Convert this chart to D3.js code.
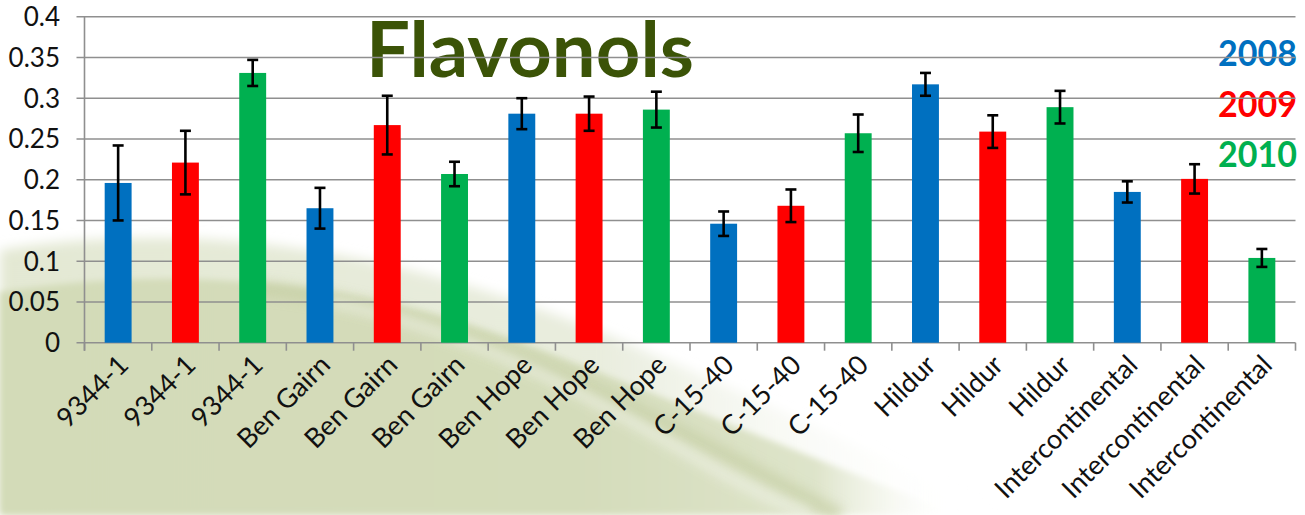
<!DOCTYPE html>
<html>
<head>
<meta charset="utf-8">
<script src="https://cdn.jsdelivr.net/npm/d3@7"></script>
<style>
  html, body { margin: 0; padding: 0; background: #ffffff; }
  svg { display: block; }
</style>
</head>
<body>
<svg id="chart" width="1305" height="515"></svg>
<script>
// ---- data ----
const varieties = ["9344-1", "Ben Gairn", "Ben Hope", "C-15-40", "Hildur", "Intercontinental"];
const years = ["2008", "2009", "2010"];
const values2008 = [0.196, 0.165, 0.281, 0.146, 0.317, 0.185];
const values2009 = [0.221, 0.267, 0.281, 0.168, 0.259, 0.201];
const values2010 = [0.331, 0.207, 0.286, 0.257, 0.289, 0.104];
const err2008 = [0.046, 0.025, 0.019, 0.015, 0.014, 0.013];
const err2009 = [0.039, 0.036, 0.021, 0.020, 0.020, 0.018];
const err2010 = [0.016, 0.015, 0.022, 0.023, 0.020, 0.011];
const yTicks = [0, 0.05, 0.1, 0.15, 0.2, 0.25, 0.3, 0.35, 0.4];
const yTickLabels = ["0", "0.05", "0.1", "0.15", "0.2", "0.25", "0.3", "0.35", "0.4"];
const title = "Flavonols";
const seriesColors = ["#0070C0", "#FF0000", "#00B050"];

const seriesValues = [values2008, values2009, values2010];
const seriesErr = [err2008, err2009, err2010];
const rows = [];
varieties.forEach((v, i) => {
  years.forEach((y, j) => {
    rows.push({ idx: rows.length, label: v, year: y, s: j, value: seriesValues[j][i], err: seriesErr[j][i] });
  });
});

const svg = d3.select("#chart");
const plot = { left: 84.5, right: 1295.5, top: 16.7, bottom: 342.7 };

// ---- background swoosh ----
const defs = svg.append("defs");
const g1 = defs.append("linearGradient").attr("id", "gGreen").attr("x1", 0).attr("y1", 0).attr("x2", 1).attr("y2", 0);
g1.append("stop").attr("offset", "0%").attr("stop-color", "#d3dbb8");
g1.append("stop").attr("offset", "60%").attr("stop-color", "#d4dcba");
g1.append("stop").attr("offset", "85%").attr("stop-color", "#dee4ca");
g1.append("stop").attr("offset", "100%").attr("stop-color", "#ffffff").attr("stop-opacity", 0);
const g2 = defs.append("linearGradient").attr("id", "gHaze").attr("x1", 0).attr("y1", 0).attr("x2", 1).attr("y2", 0);
g2.append("stop").attr("offset", "0%").attr("stop-color", "#e3e8d3");
g2.append("stop").attr("offset", "60%").attr("stop-color", "#e9edde");
g2.append("stop").attr("offset", "100%").attr("stop-color", "#ffffff").attr("stop-opacity", 0);
defs.append("filter").attr("id", "blur6").attr("x", "-20%").attr("y", "-20%").attr("width", "140%").attr("height", "140%")
  .append("feGaussianBlur").attr("stdDeviation", 6);
defs.append("filter").attr("id", "blur3").attr("x", "-20%").attr("y", "-20%").attr("width", "140%").attr("height", "140%")
  .append("feGaussianBlur").attr("stdDeviation", 3);

const bg = svg.append("g");
bg.append("path").attr("d", "M0,250 C180,222 380,240 620,340 C760,400 880,455 1000,515 L0,515 Z")
  .attr("fill", "url(#gHaze)").attr("filter", "url(#blur6)");
bg.append("path").attr("d", "M0,292 C150,268 330,272 520,342 C680,402 820,462 960,515 L0,515 Z")
  .attr("fill", "url(#gGreen)").attr("filter", "url(#blur3)");
bg.append("path").attr("d", "M250,287 C420,302 560,372 700,442 C760,472 800,497 840,515")
  .attr("fill", "none").attr("stroke", "#c6cfa4").attr("stroke-width", 14).attr("opacity", 0.7).attr("filter", "url(#blur6)");
bg.append("path").attr("d", "M330,302 C480,332 600,402 720,472 C760,494 790,507 810,515")
  .attr("fill", "none").attr("stroke", "#eef1e4").attr("stroke-width", 10).attr("opacity", 0.8).attr("filter", "url(#blur6)");

// ---- scales ----
const x = d3.scaleBand().domain(rows.map(d => d.idx)).range([plot.left, plot.right]).paddingInner(0).paddingOuter(0);
const y = d3.scaleLinear().domain([0, 0.4]).range([plot.bottom, plot.top]);
const barW = x.bandwidth() * 0.4;

// ---- title & legend (behind gridlines) ----
svg.append("text").attr("x", 366).attr("y", 76.5)
  .attr("font-family", "Lato, 'Open Sans', sans-serif").attr("font-weight", "bold").attr("font-size", 76)
  .attr("fill", "#3b5307").attr("textLength", 328).attr("lengthAdjust", "spacingAndGlyphs").text(title);

const legendY = [65.5, 116.5, 166.5];
svg.append("g").selectAll("text").data(years).join("text")
  .attr("x", 1218).attr("y", (d, i) => legendY[i])
  .attr("font-family", "Lato, 'Open Sans', sans-serif").attr("font-weight", "bold").attr("font-size", 36)
  .attr("textLength", 79).attr("lengthAdjust", "spacingAndGlyphs")
  .attr("fill", (d, i) => seriesColors[i]).text(d => d);

// ---- gridlines ----
const gridColor = "#8f8f8f";
svg.append("g").selectAll("line").data(yTicks).join("line")
  .attr("x1", plot.left - 8).attr("x2", plot.right)
  .attr("y1", d => y(d)).attr("y2", d => y(d))
  .attr("stroke", gridColor).attr("stroke-width", 1.6);

// y axis line
svg.append("line").attr("x1", plot.left).attr("x2", plot.left).attr("y1", y(0.4)).attr("y2", y(0) + 8)
  .attr("stroke", gridColor).attr("stroke-width", 1.6);

// x axis ticks at category boundaries
const boundaries = rows.map(d => x(d.idx)).concat([plot.right]);
svg.append("g").selectAll("line").data(boundaries).join("line")
  .attr("x1", d => d).attr("x2", d => d).attr("y1", y(0)).attr("y2", y(0) + 8)
  .attr("stroke", gridColor).attr("stroke-width", 1.6);

// y tick labels
svg.append("g").selectAll("text").data(yTicks).join("text")
  .attr("x", 60).attr("y", d => y(d)).attr("dy", "0.36em").attr("text-anchor", "end")
  .attr("font-family", "Lato, 'Open Sans', sans-serif").attr("font-size", 26).attr("fill", "#111")
  .text((d, i) => yTickLabels[i]);

// ---- bars ----
svg.append("g").selectAll("rect").data(rows).join("rect")
  .attr("x", d => x(d.idx) + x.bandwidth() / 2 - barW / 2)
  .attr("width", barW)
  .attr("y", d => y(d.value))
  .attr("height", d => y(0) - y(d.value))
  .attr("fill", d => seriesColors[d.s]);

// ---- error bars ----
const eb = svg.append("g").attr("stroke", "#000").attr("stroke-width", 2.6);
const capW = 5.5;
rows.forEach(d => {
  const cx = x(d.idx) + x.bandwidth() / 2;
  const y1 = y(d.value + d.err), y2 = y(d.value - d.err);
  eb.append("line").attr("x1", cx).attr("x2", cx).attr("y1", y1).attr("y2", y2);
  eb.append("line").attr("x1", cx - capW).attr("x2", cx + capW).attr("y1", y1).attr("y2", y1);
  eb.append("line").attr("x1", cx - capW).attr("x2", cx + capW).attr("y1", y2).attr("y2", y2);
});

// ---- x labels ----
svg.append("g").selectAll("text").data(rows).join("text")
  .attr("transform", d => `translate(${x(d.idx) + x.bandwidth() / 2 + 12},${y(0) + 24}) rotate(-45)`)
  .attr("text-anchor", "end")
  .attr("font-family", "Lato, 'Open Sans', sans-serif").attr("font-size", 27).attr("fill", "#111")
  .text(d => d.label);
</script>
</body>
</html>
